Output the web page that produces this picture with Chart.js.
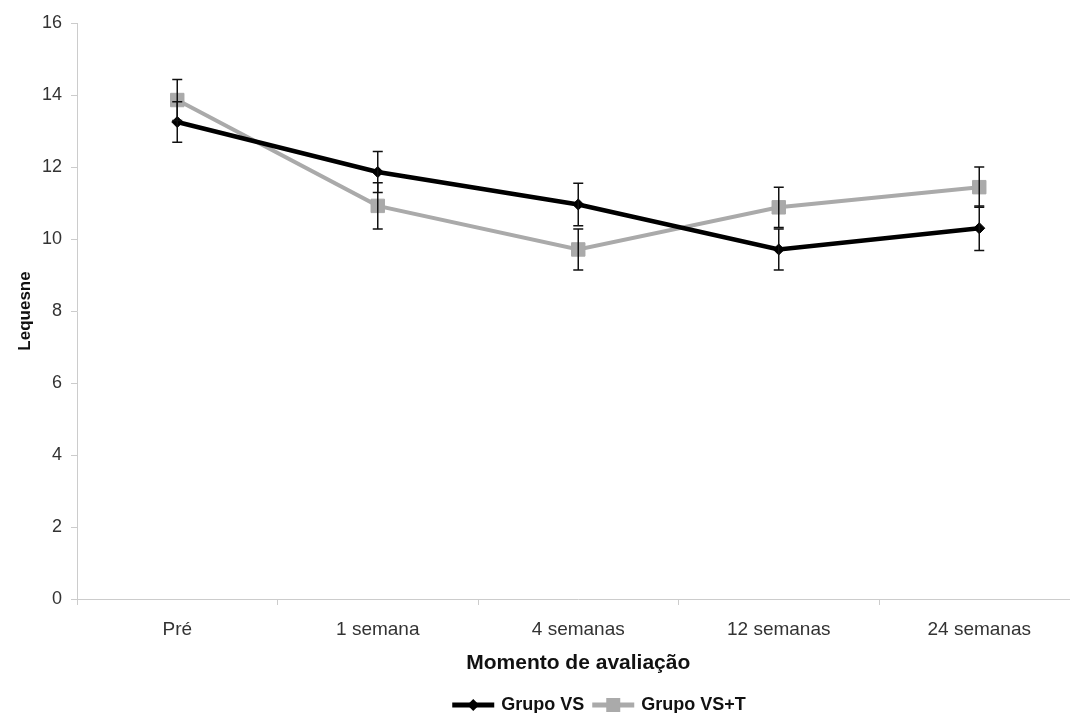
<!DOCTYPE html>
<html>
<head>
<meta charset="utf-8">
<script src="https://cdn.jsdelivr.net/npm/chart.js@4.4.1/dist/chart.umd.min.js"></script>
<style>
  html, body { margin: 0; padding: 0; background: #fff; overflow: hidden; }
  #wrap { width: 1090px; height: 713px; }
</style>
</head>
<body>
<div id="wrap"><canvas id="myChart" width="1090" height="713"></canvas></div>
<script>
var momentos = ["Pré", "1 semana", "4 semanas", "12 semanas", "24 semanas"];

var grupoVS = [13.25, 11.86, 10.96, 9.71, 10.30];
var grupoVSerro = [0.56, 0.57, 0.59, 0.57, 0.62];

var grupoVST = [13.86, 10.92, 9.71, 10.88, 11.44];
var grupoVSTerro = [0.57, 0.64, 0.57, 0.56, 0.56];

var yTicks = [0, 2, 4, 6, 8, 10, 12, 14, 16];

var errosPorSerie = [grupoVSerro, grupoVSTerro];

// barras de erro (média ± erro) desenhadas com as escalas do gráfico
var errorBars = {
  id: 'errorBars',
  afterDatasetsDraw: function(chart) {
    var ctx = chart.ctx;
    var y = chart.scales.y;
    ctx.save();
    ctx.strokeStyle = '#111';
    ctx.lineWidth = 1.5;
    chart.data.datasets.forEach(function(ds, i) {
      var meta = chart.getDatasetMeta(i);
      var erros = errosPorSerie[i];
      meta.data.forEach(function(pt, j) {
        var v = ds.data[j];
        var top = y.getPixelForValue(v + erros[j]);
        var bot = y.getPixelForValue(v - erros[j]);
        ctx.beginPath();
        ctx.moveTo(pt.x, top); ctx.lineTo(pt.x, bot);
        ctx.moveTo(pt.x - 5, top); ctx.lineTo(pt.x + 5, top);
        ctx.moveTo(pt.x - 5, bot); ctx.lineTo(pt.x + 5, bot);
        ctx.stroke();
      });
    });
    ctx.restore();
  }
};

// legenda no estilo do original: linha com marcador + texto
var legendaLinha = {
  id: 'legendaLinha',
  afterDraw: function(chart) {
    var ctx = chart.ctx;
    var ds = chart.data.datasets;
    ctx.save();
    ctx.font = 'bold 18px "Liberation Sans", Arial, sans-serif';
    ctx.textBaseline = 'middle';
    var lineW = 42, gapA = 7, gapB = 8;
    var widths = ds.map(function(d) { return ctx.measureText(d.label).width; });
    var total = 0;
    widths.forEach(function(w) { total += lineW + gapA + w; });
    total += gapB * (ds.length - 1);
    var x = 599 - total / 2;
    var yy = 705;
    ds.forEach(function(d, i) {
      ctx.strokeStyle = d.borderColor;
      ctx.lineWidth = 5;
      ctx.beginPath();
      ctx.moveTo(x, yy); ctx.lineTo(x + lineW, yy);
      ctx.stroke();
      ctx.fillStyle = d.borderColor;
      var cx = x + lineW / 2;
      ctx.beginPath();
      if (d.pointStyle === 'rectRot') {
        ctx.moveTo(cx, yy - 6); ctx.lineTo(cx + 6, yy); ctx.lineTo(cx, yy + 6); ctx.lineTo(cx - 6, yy);
        ctx.closePath();
      } else {
        ctx.rect(cx - 7, yy - 7, 14, 14);
      }
      ctx.fill();
      ctx.fillStyle = '#111';
      ctx.fillText(d.label, x + lineW + gapA, yy);
      x += lineW + gapA + widths[i] + gapB;
    });
    ctx.restore();
  }
};

new Chart(document.getElementById("myChart"), {
  type: 'line',
  data: {
    labels: momentos,
    datasets: [
      {
        label: "Grupo VS",
        data: grupoVS,
        borderColor: "#000000",
        backgroundColor: "#000000",
        borderWidth: 4.5,
        pointStyle: 'rectRot',
        pointRadius: 5.5,
        pointBorderWidth: 1,
        tension: 0,
        fill: false
      },
      {
        label: "Grupo VS+T",
        data: grupoVST,
        borderColor: "#aaaaaa",
        backgroundColor: "#aaaaaa",
        borderWidth: 4,
        pointStyle: 'rect',
        pointRadius: 9.5,
        pointBorderWidth: 1,
        tension: 0,
        fill: false
      }
    ]
  },
  options: {
    responsive: false,
    animation: false,
    layout: { padding: { top: 23, right: 9, bottom: 0, left: 0 } },
    plugins: {
      legend: { display: false },
      tooltip: { enabled: false }
    },
    scales: {
      x: {
        offset: true,
        afterFit: function(scale) { scale.height = 114; },
        grid: { offset: true, drawOnChartArea: false, drawTicks: true, tickLength: 6, color: '#cccccc' },
        border: { color: '#cccccc', width: 1 },
        ticks: { color: '#333', padding: 13, font: { family: '"Liberation Sans", Arial, sans-serif', size: 19 } },
        title: {
          display: true,
          text: "Momento de avaliação",
          color: '#111',
          padding: { top: 0, bottom: 37 },
          font: { family: '"Liberation Sans", Arial, sans-serif', size: 21, weight: 'bold' }
        }
      },
      y: {
        min: 0,
        max: 16,
        afterFit: function(scale) { scale.width = 77; },
        afterBuildTicks: function(scale) { scale.ticks = yTicks.map(function(v) { return { value: v }; }); },
        grid: { drawOnChartArea: false, drawTicks: true, tickLength: 6, color: '#cccccc' },
        border: { color: '#cccccc', width: 1 },
        ticks: { color: '#333', padding: 9, font: { family: '"Liberation Sans", Arial, sans-serif', size: 18 } },
        title: {
          display: true,
          text: "Lequesne",
          color: '#111',
          padding: { top: 15, bottom: 0 },
          font: { family: '"Liberation Sans", Arial, sans-serif', size: 17, weight: 'bold' }
        }
      }
    }
  },
  plugins: [errorBars, legendaLinha]
});
</script>
</body>
</html>
